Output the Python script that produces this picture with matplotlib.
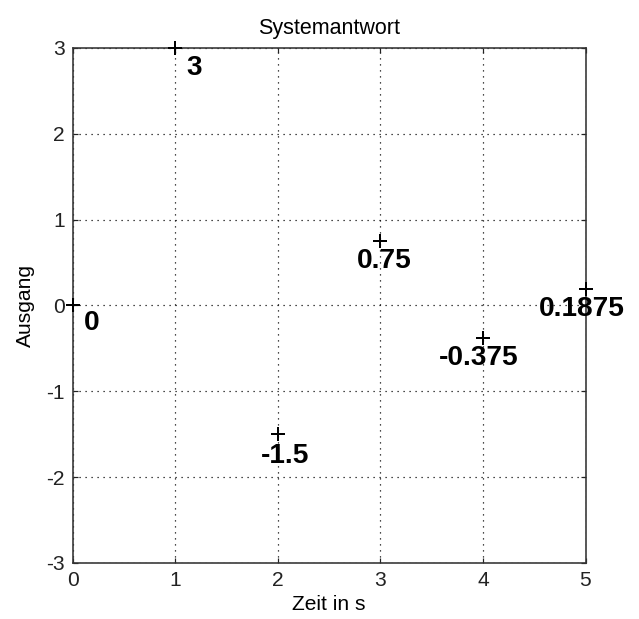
"""Systemantwort - discrete step response"""

import matplotlib
matplotlib.use("Agg")
import matplotlib.pyplot as plt

matplotlib.rc('font', **{"family": ["Liberation Sans", "DejaVu Sans"], "size": 21})
matplotlib.rc('axes', unicode_minus=False)

# data
t = [0, 1, 2, 3, 4, 5]
y = [0, 3, -1.5, 0.75, -0.375, 0.1875]
labels = ['0', '3', '-1.5', '0.75', '-0.375', '0.1875']
xticks = [0, 1, 2, 3, 4, 5]
yticks = [-3, -2, -1, 0, 1, 2, 3]

# label placement relative to the marker, in points (dpi 72 -> pixels)
label_offsets = [(11, -18), (11, -20), (-17, -22), (-23, -20), (-44, -20), (-47, -20)]


def main():
    fig = plt.figure(figsize=(639 / 72, 619 / 72), dpi=72)
    ax = fig.add_axes([0.1135, 0.0905, 0.8028, 0.832])

    ax.plot(t, y, linestyle='none', marker='+', markersize=14,
            markeredgewidth=2, color='black', clip_on=False, zorder=5)
    for xi, yi, lab, off in zip(t, y, labels, label_offsets):
        ax.annotate(lab, (xi, yi), xytext=off, textcoords='offset points',
                    ha='left', va='center', fontsize=28, fontweight='bold',
                    annotation_clip=False, zorder=6)

    ax.set_xlim(0, 5)
    ax.set_ylim(-3, 3)
    ax.set_xticks(xticks)
    ax.set_yticks(yticks)
    ax.grid(True, color='black', linestyle=(0, (1, 4)), linewidth=1.2)
    ax.tick_params(direction='in', length=5, width=1.2, top=True, right=True,
                   labelsize=21, pad=8, colors='#222222')
    for s in ax.spines.values():
        s.set_linewidth(1.6)
        s.set_color('#333333')

    ax.set_title('Systemantwort', fontsize=21.5, pad=14)
    ax.set_xlabel('Zeit in s', fontsize=21, labelpad=5)
    ax.set_ylabel('Ausgang', fontsize=21, labelpad=11)

    fig.savefig('out.png', dpi=72)


if __name__ == '__main__':
    main()
